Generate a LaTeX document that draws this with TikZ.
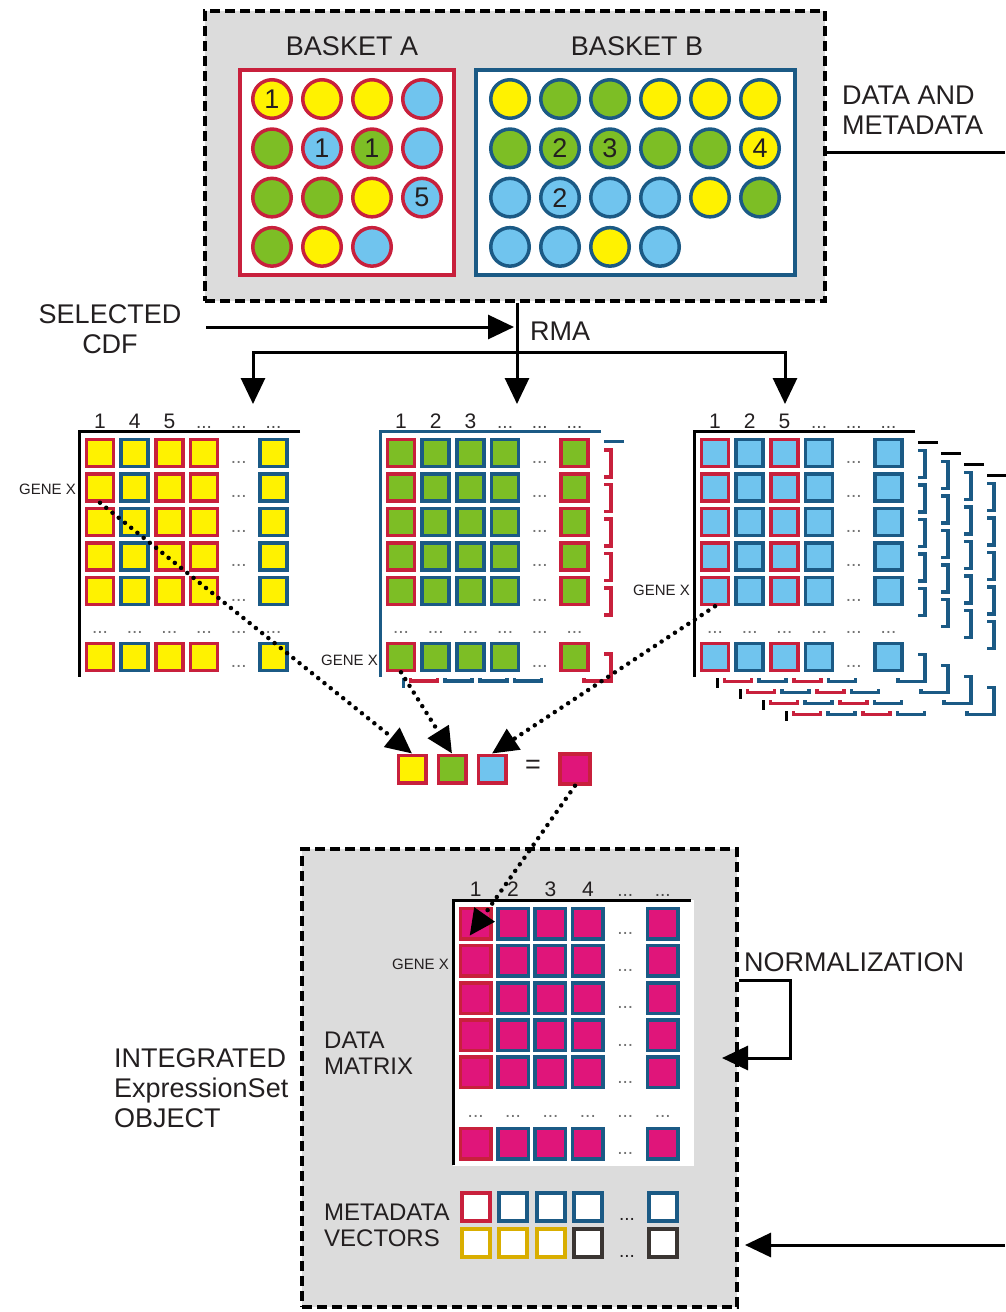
\documentclass[tikz,border=0pt]{standalone}
\usepackage{fontspec}
\setmainfont{Liberation Sans}
\usetikzlibrary{arrows.meta,calc}
\definecolor{cred}{HTML}{C8203C}
\definecolor{cblue}{HTML}{1B5A85}
\definecolor{cyel}{HTML}{FFF200}
\definecolor{cgrn}{HTML}{7DBE25}
\definecolor{clb}{HTML}{70C4EE}
\definecolor{cmag}{HTML}{E0157A}
\definecolor{cgold}{HTML}{D9AE00}
\definecolor{cdk}{HTML}{3A3532}
\definecolor{cgray}{HTML}{DCDCDC}
\definecolor{ctext}{HTML}{231F20}
\newcommand{\mxhd}{{\fontsize{19}{19}\selectfont\color{black!70}...}}
\newif\ifmxtexts
\mxtextstrue
\tikzset{
  circ/.style={circle,minimum size=38.5pt,inner sep=0pt,line width=3.5pt,font=\fontsize{27}{27}\selectfont,text=ctext},
  bask/.style={line width=4pt,fill=white,inner sep=0pt},
  dashbox/.style={draw=black,fill=cgray,line width=3.5pt,dash pattern=on 10pt off 5pt,inner sep=0pt},
  conn/.style={line width=3pt},
  arr/.style={line width=3pt,-{Triangle[length=26pt,width=24pt]}},
  dotarr/.style={line width=4.5pt,line cap=round,dash pattern=on 0pt off 8pt,-{Triangle[length=26pt,width=24pt]}},
  lbl/.style={font=\fontsize{27}{30}\selectfont,text=ctext,inner sep=0pt},
  ilbl/.style={font=\fontsize{24}{26}\selectfont,text=ctext,inner sep=0pt,align=left,anchor=west},
  genex/.style={font=\fontsize{15}{15}\selectfont,text=ctext,inner sep=0pt,anchor=east},
  hdr/.style={font=\fontsize{21}{21}\selectfont,text=ctext,inner sep=0pt,anchor=base},
  mdots/.style={font=\fontsize{19}{19}\selectfont,text=black!55,inner sep=0pt,anchor=base},
  sq/.style={rectangle,inner sep=0pt,line width=3.5pt},
}
% #1 name, #2 x, #3 y, #4 fill, #5 column colours, #6 headers, #7 axis colour, #8 scale, #9 square size
\newcommand{\mxsheet}[9]{%
 \begin{scope}[shift={(#2,#3)},scale=#8]
  \fill[white] (0,0) rectangle (224,247);
  \draw[line width=3pt,draw=#7] (221,0) -- (0,0) -- (0,246);
  \foreach \cc [count=\k] in {#5}{%
   \ifnum\k=5\relax\else
    \foreach \r/\ry in {1/22,2/56.5,3/91,4/125.5,5/160,7/226}{%
     \node[sq,draw=\cc,fill=#4,minimum size=#9] (#1-\k-\r) at ({21+34.7*(\k-1)},\ry) {};
    }%
   \fi
  }%
  \ifmxtexts
  \foreach \r/\ry in {1/22,2/56.5,3/91,4/125.5,5/160,7/226}{%
   \node[mdots] (#1-dc-\r) at (159.8,\ry+10) {...};
  }%
  \foreach \k in {1,...,6}{%
   \node[mdots] (#1-dr-\k) at ({21+34.7*(\k-1)},202) {...};
  }%
  \foreach \lab [count=\k] in {#6}{%
   \node[hdr] (#1-h-\k) at ({21+34.7*(\k-1)},-3) {\lab};
  }%
  \fi
 \end{scope}}
\begin{document}
\begin{tikzpicture}[x=1pt,y=-1pt]
\useasboundingbox (0,0) rectangle (1005,1312);
% ---------- top: baskets ----------
\node[dashbox,minimum width=620pt,minimum height=290pt] (topbox) at (515,156) {};
\node[lbl] (bA) at (352,46) {BASKET A};
\node[lbl] (bB) at (637,46) {BASKET B};
\node[bask,draw=cred,minimum width=214pt,minimum height=205pt] (basketA) at (347,172.5) {};
\node[bask,draw=cblue,minimum width=319pt,minimum height=205pt] (basketB) at (635.5,172.5) {};
\foreach \c/\r/\f/\t in {1/1/cyel/1,2/1/cyel/{},3/1/cyel/{},4/1/clb/{},
  1/2/cgrn/{},2/2/clb/1,3/2/cgrn/1,4/2/clb/{},
  1/3/cgrn/{},2/3/cgrn/{},3/3/cyel/{},4/3/clb/5,
  1/4/cgrn/{},2/4/cyel/{},3/4/clb/{}}{%
  \node[circ,draw=cred,fill=\f] (A-\c-\r) at ({272+50*(\c-1)},{99+49.3*(\r-1)}) {\t};
}
\foreach \c/\r/\f/\t in {1/1/cyel/{},2/1/cgrn/{},3/1/cgrn/{},4/1/cyel/{},5/1/cyel/{},6/1/cyel/{},
  1/2/cgrn/{},2/2/cgrn/2,3/2/cgrn/3,4/2/cgrn/{},5/2/cgrn/{},6/2/cyel/4,
  1/3/clb/{},2/3/clb/2,3/3/clb/{},4/3/clb/{},5/3/cyel/{},6/3/cgrn/{},
  1/4/clb/{},2/4/clb/{},3/4/cyel/{},4/4/clb/{}}{%
  \node[circ,draw=cblue,fill=\f] (B-\c-\r) at ({510+50*(\c-1)},{99+49.3*(\r-1)}) {\t};
}
\node[lbl,align=left,anchor=west] (dm) at (842,110) {DATA AND\\METADATA};
\coordinate (dmR) at (1005,152);
\draw[conn] (topbox.east |- dmR) -- (dmR);
% ---------- RMA ----------
\node[lbl,align=center] (cdf) at (110,329) {SELECTED\\CDF};
\coordinate (cdfTip) at (514,327);
\draw[arr] ($(cdf.east |- cdfTip)+(25,0)$) -- (cdfTip);
\node[lbl,anchor=west] (rma) at (530,331) {RMA};
\coordinate (split) at (517,352);
\coordinate (aL) at (253,404);
\coordinate (aM) at (517,404);
\coordinate (aR) at (785,404);
\draw[arr] (topbox.south -| aM) -- (aM);
\draw[arr] (split) -- (aL |- split) -- (aL);
\draw[arr] (split) -- (aR |- split) -- (aR);
% ---------- matrices ----------
\mxsheet{L}{79}{431}{cyel}{cred,cblue,cred,cred,x,cblue}{1,4,5,\mxhd,\mxhd,\mxhd}{black}{1}{27pt}
\mxtextsfalse
\mxsheet{Mb}{403}{441.5}{white}{cred,cblue,cblue,cblue,x,cred}{{},{},{},{},{},{}}{cblue}{1}{27pt}
\foreach \j in {4,3,2,1}{%
  \mxsheet{Rb\j}{694+23*\j}{431+11*\j}{white}{cred,cblue,cred,cblue,x,cblue}{{},{},{},{},{},{}}{black}{1}{27pt}
}
\mxtextstrue
\mxsheet{M}{380}{431}{cgrn}{cred,cblue,cblue,cblue,x,cred}{1,2,3,\mxhd,\mxhd,\mxhd}{cblue}{1}{27pt}
\mxsheet{R}{694}{431}{clb}{cred,cblue,cred,cblue,x,cblue}{1,2,5,\mxhd,\mxhd,\mxhd}{black}{1}{27pt}
\node[genex] (gxL) at (76,489) {GENE X};
\node[genex] (gxM) at (378,660) {GENE X};
\node[genex] (gxR) at (690,590) {GENE X};
% ---------- combination ----------
\node[sq,draw=cred,fill=cyel,minimum size=27.5pt] (Y) at (412,769) {};
\node[sq,draw=cred,fill=cgrn,minimum size=27.5pt] (G) at (452,769) {};
\node[sq,draw=cred,fill=clb,minimum size=27.5pt] (Bq) at (492,769) {};
\node[lbl] (eq) at (533,767) {=};
\node[sq,draw=cred,fill=cmag,minimum size=30pt] (Mg) at (575,769) {};
% ---------- integrated object ----------
\node[dashbox,minimum width=435pt,minimum height=458pt] (intbox) at (519.5,1078) {};
\mxsheet{I}{453}{900}{cmag}{cred,cblue,cblue,cblue,x,cblue}{1,2,3,4,\mxhd,\mxhd}{black}{1.078}{30.5pt}
\node[genex] (gxI) at (449,964) {GENE X};
\node[ilbl] (dmat) at (324,1053) {DATA\\MATRIX};
\node[ilbl] (mvec) at (324,1225) {METADATA\\VECTORS};
\foreach \c/\x/\ca/\cb in {1/476/cred/cgold,2/513/cblue/cgold,3/551/cblue/cgold,4/588/cblue/cdk,6/663/cblue/cdk}{%
  \node[sq,draw=\ca,fill=white,minimum size=28pt] (mv1-\c) at (\x,1207) {};
  \node[sq,draw=\cb,fill=white,minimum size=28pt] (mv2-\c) at (\x,1243) {};
}
\node[mdots,text=ctext] (mvd1) at (627,1220) {...};
\node[mdots,text=ctext] (mvd2) at (627,1257) {...};
\node[lbl,align=left,anchor=west] (integ) at (114,1088) {INTEGRATED\\ExpressionSet\\OBJECT};
\node[lbl,anchor=west] (norm) at (744,962) {NORMALIZATION};
\coordinate (nB) at (790,980);
\coordinate (nC) at (790,1058);
\coordinate (nTip) at (722,1058);
\draw[arr] (intbox.east |- nB) -- (nB) -- (nC) -- (nTip);
\coordinate (dmB) at (1005,1245);
\coordinate (dmBtip) at (745,1245);
\draw[arr] (dmB) -- (dmBtip);
% ---------- dotted arrows ----------
\coordinate (itip) at ($(I-1-1.center)+(-6,12)$);
\draw[dotarr] (L-1-2.south) -- (Y.north);
\draw[dotarr] (M-1-7.south) -- (G.north);
\draw[dotarr] (R-1-5.south) -- (Bq.north);
\draw[dotarr] (Mg.south) -- (itip);
\end{tikzpicture}
\end{document}
